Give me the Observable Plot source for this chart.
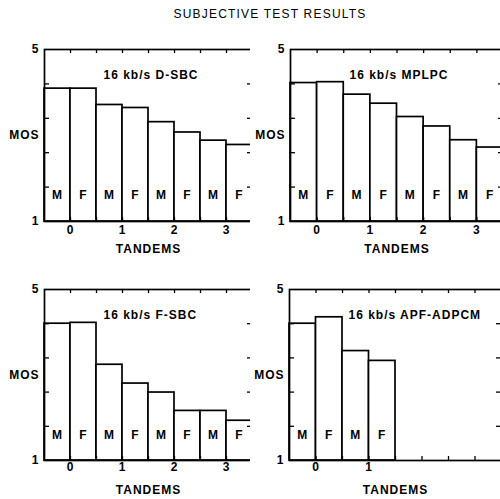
<!DOCTYPE html>
<html>
<head>
<meta charset="utf-8">
<script src="https://cdn.jsdelivr.net/npm/d3@7"></script>
<script src="https://cdn.jsdelivr.net/npm/@observablehq/plot@0.6"></script>
<style>
  html, body { margin: 0; padding: 0; background: white; }
  #wrap { position: relative; width: 500px; height: 499px; overflow: hidden; background: white; }
  #title { position: absolute; top: 7px; left: 0; width: 540px; text-align: center;
           font: 12px "Liberation Sans", Arial, sans-serif; letter-spacing: 1.2px; color: black; }
  .panel { position: absolute; }
  .panel svg { max-width: none !important; }
  .panel svg text { letter-spacing: 1px; }
</style>
</head>
<body>
<div id="wrap">
  <div id="title">SUBJECTIVE TEST RESULTS</div>
</div>
<script>
// ---- data ----
const chartTitle = "SUBJECTIVE TEST RESULTS";
const tandemLabels = ["0", "1", "2", "3"];
const talkers = ["M", "F"];
const yDomain = [1, 5];
const yEndLabels = [1, 5];
const yMinorTicks = [1.8, 2.6, 3.4, 4.2];
const panelTitles = ["16 kb/s D-SBC", "16 kb/s MPLPC", "16 kb/s F-SBC", "16 kb/s APF-ADPCM"];
// MOS values, in order M0, F0, M1, F1, M2, F2, M3, F3
const mosDSBC  = [4.09, 4.09, 3.71, 3.64, 3.31, 3.07, 2.88, 2.78];
const mosMPLPC = [4.22, 4.24, 3.95, 3.74, 3.43, 3.21, 2.89, 2.72];
const mosFSBC  = [4.20, 4.22, 3.24, 2.80, 2.59, 2.16, 2.16, 1.93];
const mosAPF   = [4.20, 4.35, 3.56, 3.33];
const yAxisName = "MOS";
const xAxisName = "TANDEMS";

// ---- build ----
function rows(values) {
  return values.map((v, i) => ({tandem: Math.floor(i / 2), talker: talkers[i % 2], mos: v}));
}
const boundaries = d3.range(0, tandemLabels.length, 0.5);

function panel(title, values, nLabels, box) {
  const data = rows(values);
  const font = '"Liberation Sans", Arial, sans-serif';
  const innerW = box.w - box.ml - box.mr;
  const innerH = box.h - box.mt - box.mb;
  const tick = {stroke: "black", strokeWidth: 1.3};
  const plot = Plot.plot({
    width: box.w, height: box.h,
    marginLeft: box.ml, marginRight: box.mr, marginTop: box.mt, marginBottom: box.mb,
    x: {domain: [-0.5, tandemLabels.length - 0.5], axis: null},
    y: {domain: yDomain, axis: null},
    style: {fontFamily: font, fontSize: "12px", fontWeight: "bold", color: "black", background: "white", overflow: "visible"},
    marks: [
      Plot.rectY(data, {
        x1: d => d.talker === "M" ? d.tandem - 0.5 : d.tandem,
        x2: d => d.talker === "M" ? d.tandem : d.tandem + 0.5,
        y1: yDomain[0], y2: "mos",
        fill: "white", stroke: "black", strokeWidth: 1.7
      }),
      Plot.frame({stroke: "black", strokeWidth: 1.7}),
      Plot.tickY(yMinorTicks, {...tick, insetRight: innerW - 5}),
      Plot.tickY(yMinorTicks, {...tick, insetLeft: innerW - 5}),
      Plot.tickX(boundaries, {...tick, insetBottom: innerH - 4}),
      Plot.tickX(boundaries, {...tick, insetTop: innerH - 4}),
      Plot.axisY(yEndLabels, {anchor: "left", tickSize: 0, tickPadding: 5, label: null, fontSize: 12}),
      Plot.text([yAxisName], {frameAnchor: "left", textAnchor: "end", dx: -5}),
      Plot.text([title], {frameAnchor: "top-left", textAnchor: "start", dx: 59, dy: 21}),
      Plot.text(data, {
        x: d => d.talker === "M" ? d.tandem - 0.25 : d.tandem + 0.25,
        frameAnchor: "bottom", dy: box.mfDy, text: "talker"
      }),
      Plot.text(tandemLabels.slice(0, nLabels), {x: (d, i) => i, frameAnchor: "bottom", dy: box.tickDy}),
      Plot.text([xAxisName], {frameAnchor: "bottom", dy: box.nameDy})
    ]
  });
  const div = document.createElement("div");
  div.className = "panel";
  div.style.left = box.left + "px";
  div.style.top = box.top + "px";
  div.style.width = box.w + "px";
  div.appendChild(plot);
  document.getElementById("wrap").appendChild(div);
}

document.getElementById("title").textContent = chartTitle;

panel(panelTitles[0], mosDSBC, 4,
  {left: 0, top: 40, w: 260, h: 225, ml: 44, mr: 8, mt: 9, mb: 44, mfDy: -23, tickDy: 12, nameDy: 31});
panel(panelTitles[1], mosMPLPC, 4,
  {left: 250, top: 40, w: 260, h: 225, ml: 40, mr: 7, mt: 9, mb: 44, mfDy: -23, tickDy: 12, nameDy: 31});
panel(panelTitles[2], mosFSBC, 4,
  {left: 0, top: 280, w: 260, h: 219, ml: 44, mr: 8, mt: 9, mb: 39, mfDy: -22, tickDy: 10, nameDy: 33});
panel(panelTitles[3], mosAPF, 2,
  {left: 250, top: 280, w: 260, h: 219, ml: 39, mr: 9, mt: 9, mb: 39, mfDy: -22, tickDy: 10, nameDy: 33});
</script>
</body>
</html>
